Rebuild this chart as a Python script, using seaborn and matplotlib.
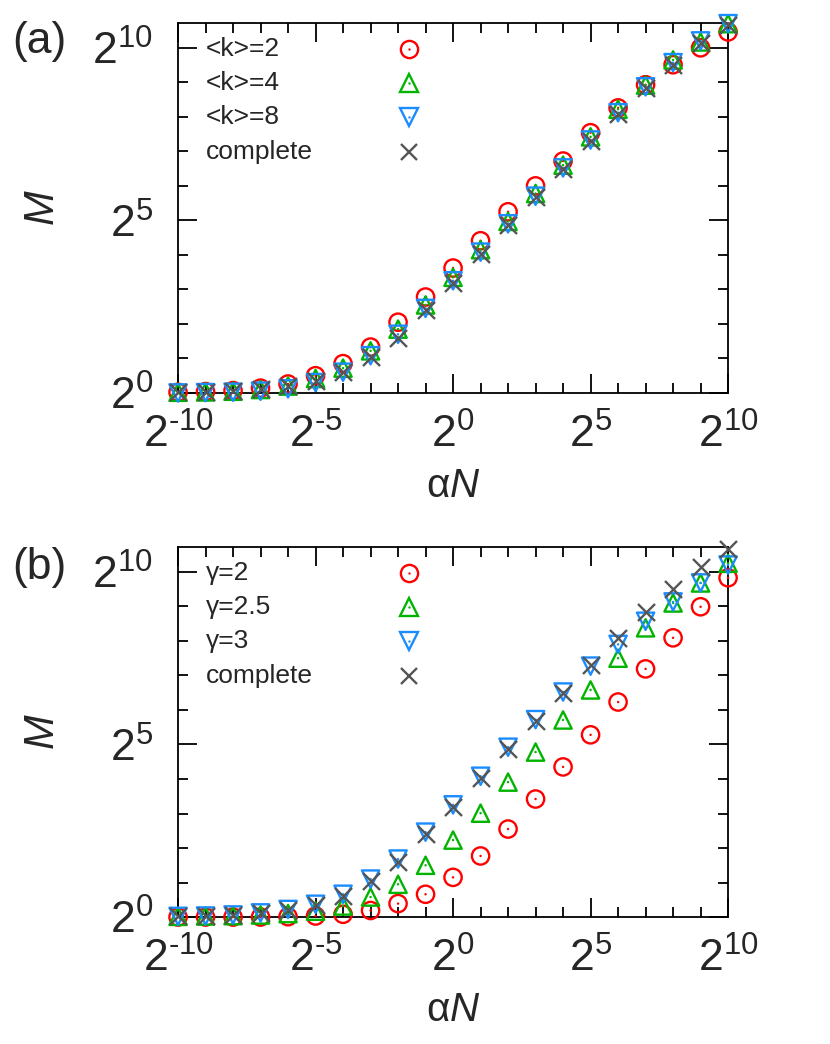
import numpy as np
import pandas as pd
import matplotlib
matplotlib.use('Agg')
import matplotlib.pyplot as plt
import matplotlib.ticker as mticker
import seaborn as sns

# x = alpha*N = 2**k
log2_alphaN = [-10, -9, -8, -7, -6, -5, -4, -3, -2, -1, 0, 1, 2, 3, 4, 5, 6, 7, 8, 9, 10]

# log2(M)
# panel (a): random networks with mean degree <k>
a_k2 = [0.02, 0.04, 0.07, 0.14, 0.26, 0.50, 0.85, 1.33, 2.05, 2.78, 3.62, 4.41, 5.25, 6.00, 6.72, 7.54, 8.26, 8.93, 9.51, 10.00, 10.46]
a_k4 = [0.02, 0.03, 0.05, 0.10, 0.20, 0.42, 0.72, 1.22, 1.85, 2.55, 3.35, 4.15, 4.97, 5.78, 6.60, 7.42, 8.22, 8.92, 9.65, 10.17, 10.70]
a_k8 = [0.00, 0.01, 0.02, 0.05, 0.12, 0.30, 0.60, 1.08, 1.70, 2.45, 3.25, 4.08, 4.90, 5.70, 6.52, 7.33, 8.12, 8.87, 9.57, 10.20, 10.70]
complete = [0.02, 0.04, 0.07, 0.12, 0.20, 0.35, 0.60, 1.04, 1.60, 2.41, 3.19, 4.03, 4.87, 5.68, 6.49, 7.30, 8.09, 8.84, 9.51, 10.14, 10.67]

# panel (b): scale-free networks with exponent gamma
b_g2 = [0.00, 0.00, 0.00, 0.00, 0.01, 0.03, 0.08, 0.19, 0.39, 0.66, 1.15, 1.77, 2.55, 3.42, 4.35, 5.28, 6.23, 7.19, 8.09, 8.99, 9.83]
b_g25 = [0.02, 0.03, 0.04, 0.06, 0.10, 0.17, 0.32, 0.58, 0.95, 1.50, 2.23, 3.01, 3.91, 4.78, 5.71, 6.58, 7.50, 8.38, 9.10, 9.68, 10.25]
b_g3 = [0.02, 0.03, 0.06, 0.12, 0.22, 0.37, 0.66, 1.10, 1.68, 2.46, 3.25, 4.08, 4.92, 5.72, 6.52, 7.27, 7.90, 8.57, 9.13, 9.68, 10.20]

labels_a = ['<k>=2', '<k>=4', '<k>=8', 'complete']
labels_b = ['γ=2', 'γ=2.5', 'γ=3', 'complete']
colors = ['#ff0000', '#00b400', '#1a8cff', '#555555']
markers = ['o', '^', 'v', 'x']

major_exp = [-10, -5, 0, 5, 10]
minor_exp_x = list(range(-10, 11))
minor_exp_y = list(range(0, 11))

sns.set_style('ticks')
plt.rcParams['font.family'] = ['Liberation Sans', 'DejaVu Sans']
plt.rcParams['mathtext.fontset'] = 'custom'
plt.rcParams['mathtext.rm'] = 'Liberation Sans'
plt.rcParams['mathtext.it'] = 'Liberation Sans:italic'
plt.rcParams['mathtext.default'] = 'regular'

fig = plt.figure(figsize=(8.3, 10.44), dpi=100)
ax_a = fig.add_axes([0.2145, 0.6236, 0.6627, 0.3544])
ax_b = fig.add_axes([0.2145, 0.1216, 0.6627, 0.3544])


def pow2_label(v, pos):
    e = int(round(np.log2(v)))
    if e < 0:
        return r'$\mathdefault{2^{\text{-}%d}}$' % (-e)
    return r'$\mathdefault{2^{%d}}$' % e


def draw_panel(ax, series, labels, tag, tag_y):
    x = 2.0 ** np.array(log2_alphaN, dtype=float)
    for vals, lab, col, mk in zip(series, labels, colors, markers):
        df = pd.DataFrame({'alphaN': x, 'M': 2.0 ** np.array(vals)})
        if mk == 'x':
            sns.scatterplot(data=df, x='alphaN', y='M', marker='x', s=150, color=col,
                            linewidth=1.7, ax=ax, clip_on=False, zorder=4)
        else:
            sns.scatterplot(data=df, x='alphaN', y='M', marker=mk, s=155, color=col,
                            facecolor='none', edgecolor=col, linewidth=1.7,
                            ax=ax, clip_on=False, zorder=3)
            sns.scatterplot(data=df, x='alphaN', y='M', marker='o', s=3, color=col,
                            edgecolor='none', linewidth=0, ax=ax, clip_on=False, zorder=3)

    ax.set_xscale('log', base=2)
    ax.set_yscale('log', base=2)
    ax.set_xlim(2.0 ** -10, 2.0 ** 10)
    ax.set_ylim(1, 2.0 ** 10.72)

    ax.xaxis.set_major_locator(mticker.FixedLocator(2.0 ** np.array(major_exp, dtype=float)))
    ax.yaxis.set_major_locator(mticker.FixedLocator(2.0 ** np.array(major_exp[2:], dtype=float)))
    ax.xaxis.set_minor_locator(mticker.FixedLocator(2.0 ** np.array(minor_exp_x, dtype=float)))
    ax.yaxis.set_minor_locator(mticker.FixedLocator(2.0 ** np.array(minor_exp_y, dtype=float)))
    ax.xaxis.set_major_formatter(mticker.FuncFormatter(pow2_label))
    ax.yaxis.set_major_formatter(mticker.FuncFormatter(pow2_label))
    ax.xaxis.set_minor_formatter(mticker.NullFormatter())
    ax.yaxis.set_minor_formatter(mticker.NullFormatter())

    ax.tick_params(which='both', direction='in', top=True, right=True,
                   width=1.3, color='black', labelsize=32)
    ax.tick_params(which='major', length=14)
    ax.tick_params(which='minor', length=7)
    ax.tick_params(axis='x', which='major', pad=15)
    ax.tick_params(axis='y', which='major', pad=18)
    for sp in ax.spines.values():
        sp.set_linewidth(1.3)
        sp.set_color('black')

    ax.set_xlabel('α$\\mathit{N}$', fontsize=29)
    ax.set_ylabel('$\\mathit{M}$', fontsize=30)
    ax.xaxis.set_label_coords(0.5, -0.2)
    ax.yaxis.set_label_coords(-0.21, 0.5)

    # key in the upper left corner: text first, symbol to the right
    for i, (lab, col, mk) in enumerate(zip(labels, colors, markers)):
        yy = 1 - (0.07 + 0.0925 * i)
        ax.text(0.05, yy, lab, transform=ax.transAxes, fontsize=19,
                ha='left', va='center')
        if mk == 'x':
            ax.plot([0.42], [yy], marker='x', ms=12, mew=1.7, color=col,
                    linestyle='', transform=ax.transAxes)
        else:
            ax.plot([0.42], [yy], marker=mk, ms=12.4, mew=1.7, mfc='none', mec=col,
                    linestyle='', transform=ax.transAxes)
            ax.plot([0.42], [yy], marker='o', ms=1.7, mew=0, color=col,
                    linestyle='', transform=ax.transAxes)

    fig.text(12 / 830, tag_y, tag, fontsize=32, ha='left', va='center')


draw_panel(ax_a, [a_k2, a_k4, a_k8, complete], labels_a, '(a)', 1 - 42 / 1044)
draw_panel(ax_b, [b_g2, b_g25, b_g3, complete], labels_b, '(b)', 1 - 568 / 1044)

fig.savefig('out.png', dpi=100)
